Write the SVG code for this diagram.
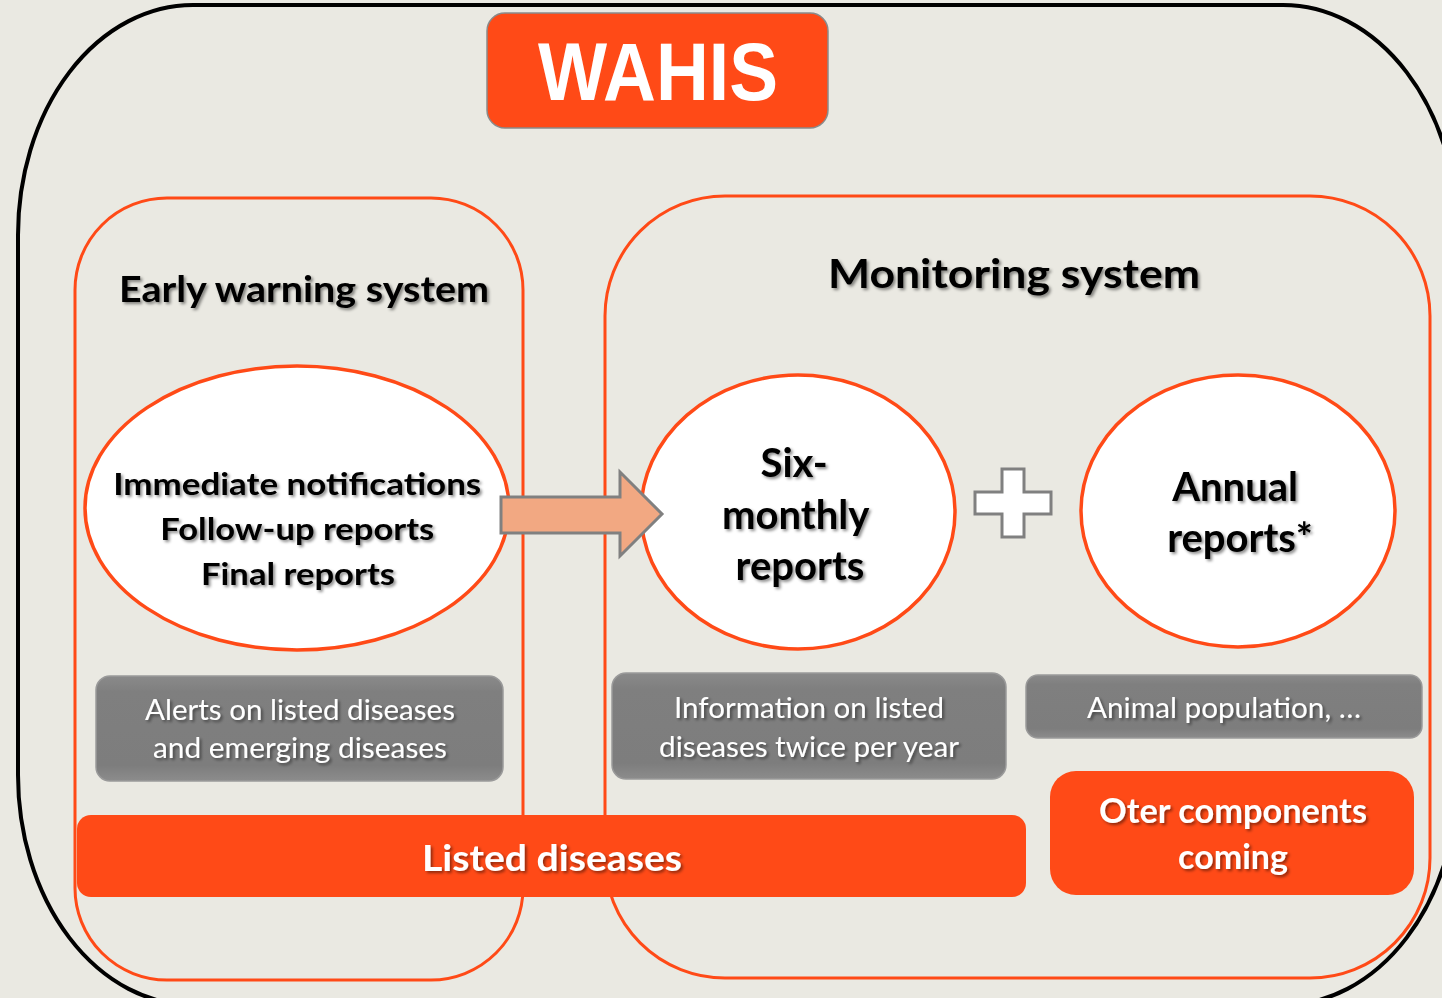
<svg xmlns="http://www.w3.org/2000/svg" width="1442" height="998" viewBox="0 0 1442 998">
<defs>
<filter id="ts" x="-10%" y="-30%" width="120%" height="160%">
<feDropShadow dx="2" dy="2" stdDeviation="1.5" flood-color="#000" flood-opacity="0.45"/>
</filter>
<linearGradient id="gg" x1="0" y1="0" x2="0" y2="1">
<stop offset="0" stop-color="#8a8a8a"/>
<stop offset="0.15" stop-color="#7f7f7f"/>
<stop offset="0.85" stop-color="#7d7d7d"/>
<stop offset="1" stop-color="#8c8c8c"/>
</linearGradient>
</defs>
<style>
.frame{fill:none;stroke:#FF4A17;stroke-width:3}
.oval{fill:#fff;stroke:#FF4A17;stroke-width:3.5}
.orange{fill:#FF4A17}
.gray{fill:url(#gg);stroke:#9a9a9a;stroke-width:1.5}
.title{font-family:Lato,"Liberation Sans",sans-serif;font-weight:700;fill:#000;text-anchor:middle;filter:url(#ts)}
.wt{font-family:Lato,"Liberation Sans",sans-serif;font-weight:700;fill:#fff;text-anchor:middle;filter:url(#ts)}
.gt{font-family:Lato,"Liberation Sans",sans-serif;font-weight:400;fill:#fff;text-anchor:middle;font-size:28px;filter:url(#ts)}
</style>
<rect width="1442" height="998" fill="#EAE9E2"/>
<rect id="outer" x="18" y="5" width="1440" height="1000" rx="175" ry="230" fill="none" stroke="#000" stroke-width="4"/>

<g id="early-warning-system">
<rect class="frame" x="75" y="198" width="448" height="782" rx="92" ry="92"/>
<text class="title" x="304" y="302" font-size="37" textLength="370" lengthAdjust="spacingAndGlyphs">Early warning system</text>
</g>

<g id="monitoring-system">
<rect class="frame" x="605" y="196" width="825" height="782" rx="120" ry="120"/>
<text class="title" x="1014" y="288" font-size="41" textLength="372" lengthAdjust="spacingAndGlyphs">Monitoring system</text>
</g>

<g id="wahis">
<rect x="487" y="13" width="341" height="115" rx="18" ry="18" fill="#FF4A17" stroke="#8a8a8a" stroke-width="1.5"/>
<text x="658" y="100" font-family="'Liberation Sans',Arial,sans-serif" font-weight="700" font-size="82" fill="#fff" text-anchor="middle" textLength="240" lengthAdjust="spacingAndGlyphs">WAHIS</text>
</g>

<g id="immediate">
<ellipse class="oval" cx="297" cy="508" rx="212" ry="142"/>
<text class="title" font-size="31">
<tspan x="301" y="495" textLength="368" lengthAdjust="spacingAndGlyphs">Immediate notifications</tspan>
<tspan x="301" y="540" textLength="274" lengthAdjust="spacingAndGlyphs">Follow-up reports</tspan>
<tspan x="298" y="585" textLength="194" lengthAdjust="spacingAndGlyphs">Final reports</tspan>
</text>
</g>

<g id="six-monthly">
<ellipse class="oval" cx="798" cy="512" rx="157" ry="137"/>
<text class="title" font-size="40">
<tspan x="799" y="477">Six-</tspan>
<tspan x="800" y="529">monthly</tspan>
<tspan x="800" y="580">reports</tspan>
</text>
</g>

<g id="annual">
<ellipse class="oval" cx="1238" cy="511" rx="157" ry="136"/>
<text class="title" font-size="40">
<tspan x="1240" y="501">Annual</tspan>
<tspan x="1240" y="552">reports*</tspan>
</text>
</g>

<g id="plus">
<path d="M1002,469 H1024 V492 H1051 V514 H1024 V537 H1002 V514 H975 V492 H1002 Z" fill="#fff" stroke="#808080" stroke-width="3"/>
</g>

<g id="alerts">
<rect class="gray" x="96" y="676" width="407" height="105" rx="14" ry="14"/>
<text class="gt"><tspan x="300" y="720" textLength="310" lengthAdjust="spacingAndGlyphs">Alerts on listed diseases</tspan><tspan x="300" y="758" textLength="294" lengthAdjust="spacingAndGlyphs">and emerging diseases</tspan></text>
</g>

<g id="information">
<rect class="gray" x="612" y="673" width="394" height="106" rx="14" ry="14"/>
<text class="gt"><tspan x="809" y="718" textLength="270" lengthAdjust="spacingAndGlyphs">Information on listed</tspan><tspan x="809" y="757" textLength="300" lengthAdjust="spacingAndGlyphs">diseases twice per year</tspan></text>
</g>

<g id="animal">
<rect class="gray" x="1026" y="675" width="396" height="63" rx="12" ry="12"/>
<text class="gt" x="1224" y="718" textLength="274" lengthAdjust="spacingAndGlyphs">Animal population, …</text>
</g>

<g id="listed-diseases">
<rect class="orange" x="77" y="815" width="949" height="82" rx="14" ry="14"/>
<text class="wt" x="552" y="871" font-size="37" textLength="260" lengthAdjust="spacingAndGlyphs">Listed diseases</text>
</g>

<g id="other-components">
<rect class="orange" x="1050" y="771" width="364" height="124" rx="26" ry="26"/>
<text class="wt" font-size="34"><tspan x="1233" y="823" textLength="268" lengthAdjust="spacingAndGlyphs">Oter components</tspan><tspan x="1233" y="869">coming</tspan></text>
</g>

<g id="connectors">
<path d="M501,497 H620 V472 L662,514 L620,556 V533 H501 Z" fill="#F2A882" stroke="#808080" stroke-width="3" stroke-linejoin="miter"/>
</g>
</svg>
